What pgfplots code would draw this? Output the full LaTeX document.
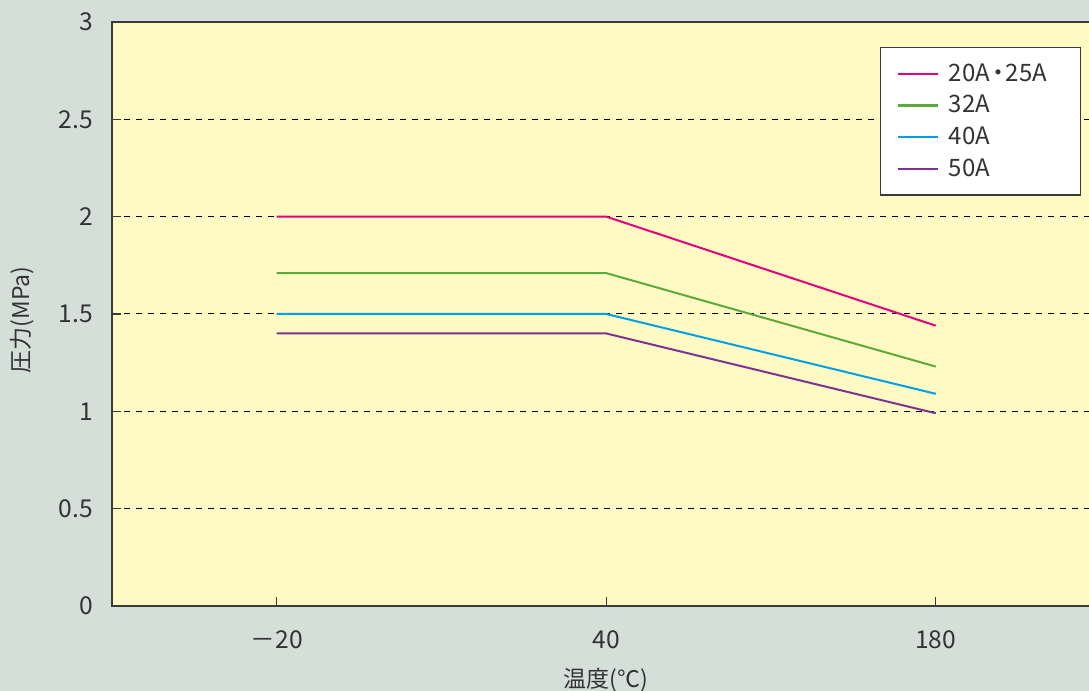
\documentclass[border=0pt]{standalone}
\usepackage{fontspec}
\setmainfont{Noto Sans CJK JP}
\usepackage{pgfplots}
\pgfplotsset{compat=1.18}
\definecolor{bg}{HTML}{D5DFDA}
\definecolor{plotbg}{HTML}{FFF9C4}
\definecolor{txt}{HTML}{333333}
\definecolor{axl}{HTML}{3A3A3A}
\definecolor{cpink}{HTML}{E4007F}
\definecolor{cgreen}{HTML}{5DAA3C}
\definecolor{ccyan}{HTML}{00A0E9}
\definecolor{cpurple}{HTML}{7B3494}
\begin{document}
\begin{tikzpicture}[x=1pt,y=1pt]
\fill[bg] (0pt,0pt) rectangle (544.5pt,345.5pt);
\useasboundingbox (0pt,0pt) rectangle (544.5pt,345.5pt);
\clip (0pt,0pt) rectangle (544.5pt,345.5pt);
\begin{axis}[
  at={(56pt,42.5pt)}, anchor=south west,
  scale only axis, width=494.25pt, height=292pt,
  xmin=-0.5, xmax=2.5, ymin=0, ymax=3,
  xtick={0,1,2}, xticklabels={－20,40,180},
  ytick={0,0.5,1,1.5,2,2.5,3}, yticklabels={0,0.5,1,1.5,2,2.5,3},
  ymajorgrids, grid style={dashed, black, line width=0.5pt},
  axis background/.style={fill=plotbg},
  axis line style={axl, line width=0.7pt},
  tick style={axl, line width=0.6pt},
  tick align=inside, major tick length=4.5pt,
  xtick pos=bottom, ytick pos=left,
  tick label style={txt, font=\fontsize{12.3}{14}\selectfont},
  xticklabel style={yshift=-9pt},
  yticklabel style={xshift=-6pt},
  xlabel={温度(℃)}, ylabel={圧力(MPa)},
  label style={txt, font=\fontsize{11.5}{13}\selectfont},
  xlabel style={at={(axis description cs:0.5,0)}, anchor=center, yshift=-37pt},
  ylabel style={at={(axis description cs:0,0.49)}, anchor=center, rotate=0, yshift=45pt},
  legend style={at={(rel axis cs:0.777,0.957)}, anchor=north west,
    draw=axl, fill=white, line width=0.6pt, font=\fontsize{12}{14}\selectfont,
    text=txt, row sep=1.5pt, inner xsep=8pt, inner ysep=6pt,
    text width=56pt},
  legend cell align=left,
  legend image code/.code={\draw[#1, line width=1.1pt] (0pt,0pt) -- (20pt,0pt); \path (23pt,0pt);},
]
\addplot[cpink, line width=1pt] coordinates {(0,2.0) (1,2.0) (2,1.44)};
\addlegendentry{20A\kern-2pt・\kern-2pt25A}
\addplot[cgreen, line width=1pt] coordinates {(0,1.71) (1,1.71) (2,1.23)};
\addlegendentry{32A}
\addplot[ccyan, line width=1pt] coordinates {(0,1.5) (1,1.5) (2,1.09)};
\addlegendentry{40A}
\addplot[cpurple, line width=1pt] coordinates {(0,1.4) (1,1.4) (2,0.99)};
\addlegendentry{50A}
\end{axis}
\end{tikzpicture}
\end{document}
